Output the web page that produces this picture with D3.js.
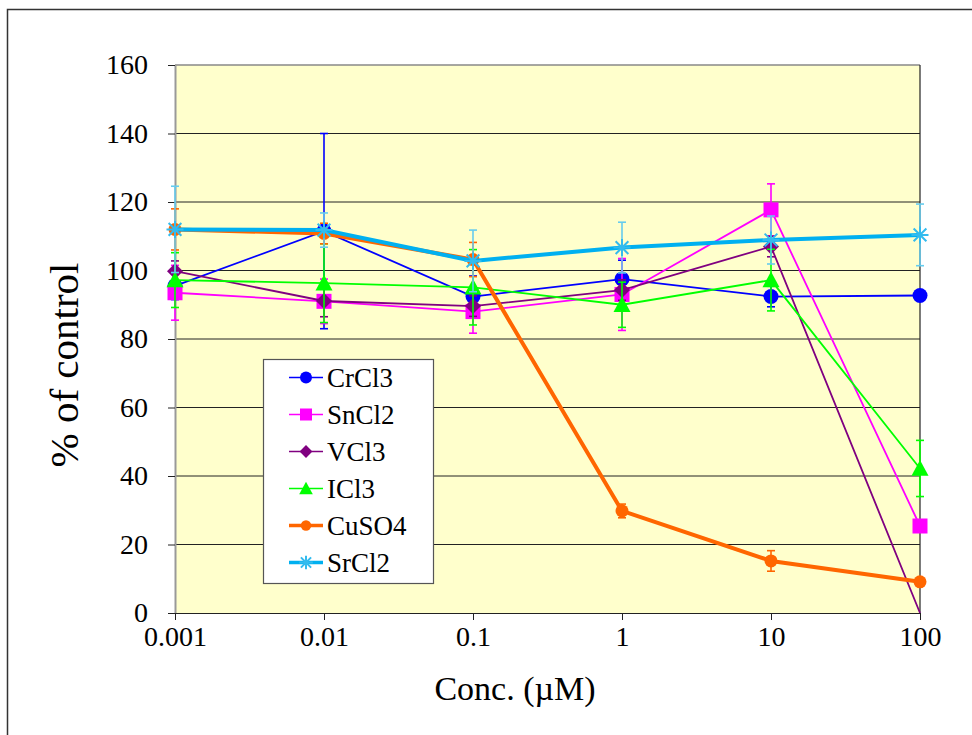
<!DOCTYPE html>
<html>
<head>
<meta charset="utf-8">
<script src="https://cdn.jsdelivr.net/npm/d3@7"></script>
<style>
  body { margin: 0; background: #fff; }
  svg { display: block; font-family: "Liberation Serif", "Times New Roman", serif; }
</style>
</head>
<body>
<svg width="972" height="735"></svg>
<script>
// ---- data ----
const concs = [0.001, 0.01, 0.1, 1, 10, 100];
const xTickLabels = ["0.001", "0.01", "0.1", "1", "10", "100"];
const yTicks = [0, 20, 40, 60, 80, 100, 120, 140, 160];

const seriesNames = ["CrCl3", "SnCl2", "VCl3", "ICl3", "CuSO4", "SrCl2"];

const crcl3 = [95.5, 111.5, 92.4, 97.5, 92.4, 92.7];
const crcl3Err = [4, 28.5, 6, 5.5, 3, 0];
const sncl2 = [93.5, 91, 88, 93, 117.7, 25.4];
const sncl2Err = [8, 6.5, 6.3, 10.5, 7.6, 0];
const vcl3 = [99.8, 91.1, 89.6, 94.3, 107, 0];
const vcl3Err = [3, 4.6, 3, 3, 3, 0];
const icl3 = [97.2, 96.3, 95.1, 90, 97.2, 42.2];
const icl3Err = [8, 11.5, 11, 6.6, 9, 8.2];
const cuso4 = [112, 110.8, 103.2, 29.8, 15.2, 9.1];
const cuso4Err = [6, 3, 5, 2, 3, 0];
const srcl2 = [112, 111.8, 102.8, 106.7, 108.9, 110.4];
const srcl2Err = [12.6, 5, 9, 7.4, 7, 9];

// styling per series
const styles = {
  CrCl3: { color: "#0000ff", errColor: "#0000ff", width: 1.8, marker: "circle" },
  SnCl2: { color: "#ff00ff", errColor: "#ff00ff", width: 1.8, marker: "square" },
  VCl3:  { color: "#800080", errColor: "#800080", width: 1.8, marker: "diamond" },
  ICl3:  { color: "#00ff00", errColor: "#00ff00", width: 1.8, marker: "triangle" },
  CuSO4: { color: "#ff6600", errColor: "#ff6600", width: 4, marker: "dot" },
  SrCl2: { color: "#00b0f0", errColor: "#66ccee", width: 4, marker: "star" }
};

const series = [
  { name: "CrCl3", values: crcl3, err: crcl3Err },
  { name: "SnCl2", values: sncl2, err: sncl2Err },
  { name: "VCl3", values: vcl3, err: vcl3Err },
  { name: "ICl3", values: icl3, err: icl3Err },
  { name: "CuSO4", values: cuso4, err: cuso4Err },
  { name: "SrCl2", values: srcl2, err: srcl2Err }
];

const svg = d3.select("svg");

// outer frame (slide border)
svg.append("rect")
  .attr("x", 7.5).attr("y", 9.5)
  .attr("width", 1100).attr("height", 1100)
  .attr("fill", "none").attr("stroke", "#333").attr("stroke-width", 1.5);

const plot = { left: 175, right: 920, top: 65, bottom: 613 };

const x = d3.scaleLog().domain([0.001, 100]).range([plot.left, plot.right]);
const y = d3.scaleLinear().domain([0, 160]).range([plot.bottom, plot.top]);

// plot background
svg.append("rect")
  .attr("x", plot.left).attr("y", plot.top)
  .attr("width", plot.right - plot.left).attr("height", plot.bottom - plot.top)
  .attr("fill", "#ffffcc");

// gridlines
svg.append("g")
  .selectAll("line")
  .data(yTicks.filter(d => d > 0 && d < 160))
  .join("line")
  .attr("x1", plot.left).attr("x2", plot.right)
  .attr("y1", d => y(d)).attr("y2", d => y(d))
  .attr("stroke", "#222").attr("stroke-width", 1);

// plot border: top gray, right dark
svg.append("line")
  .attr("x1", plot.left).attr("x2", plot.right)
  .attr("y1", plot.top).attr("y2", plot.top)
  .attr("stroke", "#888").attr("stroke-width", 1.5);
svg.append("line")
  .attr("x1", plot.right).attr("x2", plot.right)
  .attr("y1", plot.top).attr("y2", plot.bottom)
  .attr("stroke", "#222").attr("stroke-width", 1.2);

// y axis
const yAxis = svg.append("g")
  .attr("transform", `translate(${plot.left},0)`)
  .call(d3.axisLeft(y).tickValues(yTicks).tickSize(7).tickPadding(20).tickSizeOuter(0));
yAxis.select(".domain").attr("stroke", "#999").attr("stroke-width", 2);
yAxis.selectAll(".tick line").attr("stroke", "#222");
yAxis.selectAll(".tick text")
  .attr("font-size", 28).attr("fill", "#000")
  .style("font-family", "'Liberation Serif', serif");

// x axis
const xAxis = svg.append("g")
  .attr("transform", `translate(0,${plot.bottom})`)
  .call(d3.axisBottom(x).tickValues(concs).tickFormat((d, i) => xTickLabels[i])
    .tickSize(7).tickPadding(6).tickSizeOuter(0));
xAxis.select(".domain").attr("stroke", "#222").attr("stroke-width", 1.2);
xAxis.selectAll(".tick line").attr("stroke", "#222");
xAxis.selectAll(".tick text")
  .attr("font-size", 28).attr("fill", "#000")
  .style("font-family", "'Liberation Serif', serif");

// axis titles
svg.append("text")
  .attr("transform", "translate(78,365) rotate(-90)")
  .attr("text-anchor", "middle")
  .attr("font-size", 41)
  .text("% of control");

svg.append("text")
  .attr("x", 515).attr("y", 700)
  .attr("text-anchor", "middle")
  .attr("font-size", 34)
  .text("Conc. (\u00b5M)");

// marker drawing helper
function drawMarker(g, type, color, size) {
  const s = size || 1;
  if (type === "circle") {
    g.append("circle").attr("r", 7.5 * s).attr("fill", color);
  } else if (type === "dot") {
    g.append("circle").attr("r", 6.5 * s).attr("fill", color);
  } else if (type === "square") {
    g.append("rect").attr("x", -7.5 * s).attr("y", -7.5 * s)
      .attr("width", 15 * s).attr("height", 15 * s).attr("fill", color);
  } else if (type === "diamond") {
    const r = 8 * s;
    g.append("path").attr("d", `M0,${-r}L${r},0L0,${r}L${-r},0Z`).attr("fill", color);
  } else if (type === "triangle") {
    const r = 8.5 * s;
    g.append("path").attr("d", `M0,${-r}L${r},${r * 0.85}L${-r},${r * 0.85}Z`).attr("fill", color);
  } else if (type === "star") {
    const r = 8.5 * s;
    const d = r * 0.75;
    g.append("path")
      .attr("d", `M${-r},0L${r},0M0,${-r}L0,${r}M${-d},${-d}L${d},${d}M${-d},${d}L${d},${-d}`)
      .attr("stroke", "#33bbee").attr("stroke-width", 2).attr("fill", "none");
  }
}

const line = d3.line().x(d => x(d.c)).y(d => y(d.v));

series.forEach(s => {
  const st = styles[s.name];
  const pts = s.values.map((v, i) => ({ c: concs[i], v: v, e: s.err[i] }));
  const g = svg.append("g").attr("class", "series");

  // error bars
  const eb = g.append("g")
    .selectAll("g")
    .data(pts.filter(p => p.e > 0))
    .join("g")
    .attr("stroke", st.errColor).attr("stroke-width", 1.6);
  eb.append("line")
    .attr("x1", p => x(p.c)).attr("x2", p => x(p.c))
    .attr("y1", p => y(p.v - p.e)).attr("y2", p => y(p.v + p.e));
  eb.append("line")
    .attr("x1", p => x(p.c) - 4).attr("x2", p => x(p.c) + 4)
    .attr("y1", p => y(p.v + p.e)).attr("y2", p => y(p.v + p.e));
  eb.append("line")
    .attr("x1", p => x(p.c) - 4).attr("x2", p => x(p.c) + 4)
    .attr("y1", p => y(p.v - p.e)).attr("y2", p => y(p.v - p.e));

  g.append("path")
    .datum(pts)
    .attr("d", line)
    .attr("fill", "none")
    .attr("stroke", st.color)
    .attr("stroke-width", st.width);

  g.selectAll("g.mk")
    .data(pts.filter(p => p.v > 0))
    .join("g")
    .attr("class", "mk")
    .attr("transform", p => `translate(${x(p.c)},${y(p.v)})`)
    .each(function () { drawMarker(d3.select(this), st.marker, st.color); });
});

// legend
const legend = svg.append("g").attr("transform", "translate(263,359)");
legend.append("rect")
  .attr("x", 0.5).attr("y", 0.5)
  .attr("width", 170).attr("height", 224)
  .attr("fill", "#fff").attr("stroke", "#555").attr("stroke-width", 1.2);

const items = legend.selectAll("g.item")
  .data(seriesNames)
  .join("g")
  .attr("class", "item")
  .attr("transform", (d, i) => `translate(0,${18.5 + i * 37})`);

items.append("line")
  .attr("x1", 26).attr("x2", 60)
  .attr("stroke", d => styles[d].color)
  .attr("stroke-width", d => styles[d].width === 4 ? 3.5 : 1.6);
items.append("g")
  .attr("transform", "translate(43,0)")
  .each(function (d) { drawMarker(d3.select(this), styles[d].marker, styles[d].color, 0.8); });
items.append("text")
  .attr("x", 64).attr("y", 9)
  .attr("font-size", 27)
  .text(d => d);
</script>
</body>
</html>
